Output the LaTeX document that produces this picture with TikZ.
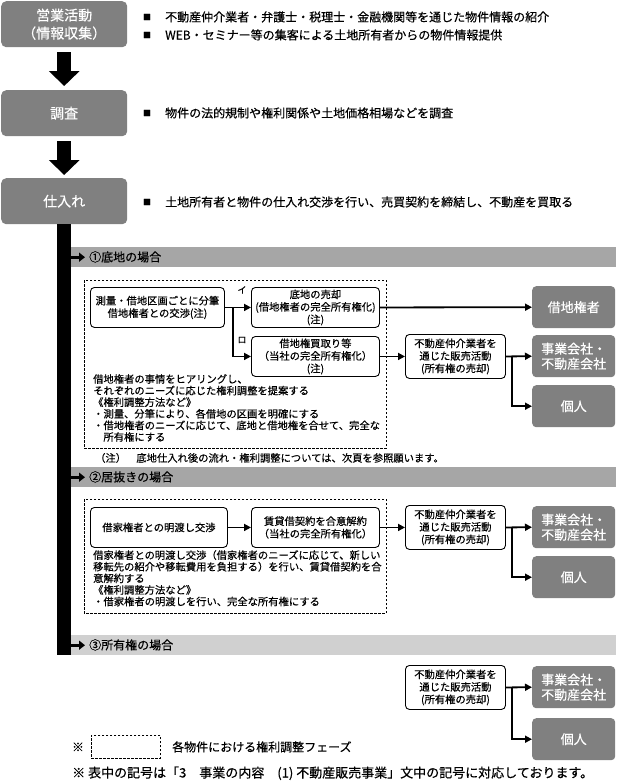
\documentclass[tikz,border=0pt]{standalone}
\usepackage{fontspec}
\setmainfont{Noto Sans CJK JP}[BoldFont=*, BoldFeatures={FakeBold=0.4}]
\usetikzlibrary{arrows.meta,calc}
\definecolor{boxgray}{HTML}{808080}
\definecolor{bandgray}{HTML}{A6A6A6}
\definecolor{bandlight}{HTML}{D0D0D0}
\newcommand{\jfs}[2]{\fontsize{#1}{#2}\selectfont\bfseries}
\tikzset{
  bigbox/.style={fill=boxgray, rounded corners=5pt, text=white, align=center, inner sep=0pt, minimum width=126pt, minimum height=46pt, font=\jfs{14}{18}, anchor=north west},
  rbox/.style={fill=boxgray, rounded corners=4pt, text=white, align=center, inner sep=0pt, minimum width=83pt, minimum height=42pt, font=\jfs{13}{15}, anchor=north west},
  wbox/.style={draw=black, line width=0.9pt, fill=white, rounded corners=4pt, align=center, inner sep=0pt, font=\jfs{10.3}{12.5}, anchor=north west},
  phase/.style={draw=black, line width=0.7pt, dash pattern=on 2.5pt off 1.5pt},
  band/.style={inner sep=0pt, minimum width=545pt, minimum height=20pt, anchor=north west},
  bandtxt/.style={font=\jfs{12}{12}, anchor=west, inner sep=0pt, text height=10.5pt, text depth=1.5pt},
  bigarrow/.style={line width=14pt, -{Triangle[width=30pt,length=15pt]}},
  conn/.style={line width=1.8pt, -{Triangle[width=7pt,length=7pt]}},
  hconn/.style={line width=2.8pt, -{Triangle[width=9pt,length=6pt]}},
  btext/.style={font=\jfs{12}{12}, anchor=west, inner sep=0pt, text height=10.5pt, text depth=1.5pt},
  bmark/.style={font=\jfs{8}{8}, inner sep=0pt},
  ntext/.style={font=\jfs{10.3}{11.6}, align=left, anchor=north west, inner sep=0pt},
  lbl/.style={font=\jfs{9}{9}, inner sep=0pt},
}
\begin{document}
\begin{tikzpicture}[x=1pt,y=-1pt]
\useasboundingbox[fill=white] (0,0) rectangle (616,782);

% top flow
\node[bigbox] (eigyo) at (1,1) {営業活動\\（情報収集）};
\node[bigbox] (chosa) at (1,90) {調査};
\node[bigbox] (shiire) at (1,178) {仕入れ};
\draw[bigarrow] ([yshift=-5pt]eigyo.south) -- ([yshift=4pt]chosa.north);
\draw[bigarrow] ([yshift=-5pt]chosa.south) -- ([yshift=3pt]shiire.north);

\node[bmark] (m1) at (147,17) {■};
\node[btext] (t1) at (165,17) {不動産仲介業者・弁護士・税理士・金融機関等を通じた物件情報の紹介};
\node[bmark] (m2) at (147,35) {■};
\node[btext] (t2) at (165,35) {WEB・セミナー等の集客による土地所有者からの物件情報提供};
\node[bmark] (m3) at (147,113) {■};
\node[btext] (t3) at (165,113) {物件の法的規制や権利関係や土地価格相場などを調査};
\node[bmark] (m4) at (147,202) {■};
\node[btext] (t4) at (165,202) {土地所有者と物件の仕入れ交渉を行い、売買契約を締結し、不動産を買取る};

% vertical bar
\coordinate (barend) at (64,655);
\fill ([xshift=-7pt]shiire.south) rectangle ([xshift=7pt]barend);

% bands
\node[band, fill=bandgray] (h1) at (71,247) {};
\node[band, fill=bandgray] (h2) at (71,467) {};
\node[band, fill=bandlight] (h3) at (71,635) {};
\draw[hconn] (h1.west) -- ([xshift=14pt]h1.west);
\draw[hconn] (h2.west) -- ([xshift=14pt]h2.west);
\draw[hconn] (h3.west) -- ([xshift=14pt]h3.west);
\node[bandtxt] (h1t) at (89,257) {①底地の場合};
\node[bandtxt] (h2t) at (89,477) {②居抜きの場合};
\node[bandtxt] (h3t) at (89,645) {③所有権の場合};

% section 1
\draw[phase] (84,280) rectangle (386,448);
\node[wbox, minimum width=134pt, minimum height=40pt] (A) at (90,287) {測量・借地区画ごとに分筆\\借地権者との交渉(注)};
\node[wbox, minimum width=128pt, minimum height=40pt] (i) at (251,287) {底地の売却\\(借地権者の完全所有権化)\\(注)};
\node[wbox, minimum width=128pt, minimum height=40pt] (ro) at (251,336) {借地権買取り等\\（当社の完全所有権化）\\(注)};
\node[lbl] (li) at (242,290) {イ};
\node[lbl] (lro) at (242,340) {ロ};
\node[wbox, minimum width=100pt, minimum height=44pt] (f1) at (405,334) {不動産仲介業者を\\通じた販売活動\\(所有権の売却)};
\node[rbox] (s1) at (532,286) {借地権者};
\node[rbox] (j1) at (532,335) {事業会社・\\不動産会社};
\node[rbox] (k1) at (532,385) {個人};
\draw[conn] (A.east) -- (i.west);
\coordinate (ja) at ($(A.east)+(8,0)$);
\draw[conn] (ja) |- (ro.west);
\draw[conn] (i.east) -- (s1.west);
\draw[conn] (ro.east) -- (f1.west);
\draw[conn] (f1.east) -- (j1.west);
\coordinate (jb) at ($(f1.east)+(6,0)$);
\draw[conn] (jb) |- (k1.west);
\node[ntext] (n1) at (93,374) {借地権者の事情をヒアリングし、\\それぞれのニーズに応じた権利調整を提案する\\《権利調整方法など》\\・測量、分筆により、各借地の区画を明確にする\\・借地権者のニーズに応じて、底地と借地権を合せて、完全な\\　所有権にする};
\node[ntext, anchor=west, text height=9pt, text depth=1.3pt] (note1) at (95,458) {（注）　底地仕入れ後の流れ・権利調整については、次頁を参照願います。};

% section 2
\draw[phase] (84,499) rectangle (386,613);
\node[wbox, minimum width=137pt, minimum height=40pt] (B) at (90,507) {借家権者との明渡し交渉};
\node[wbox, minimum width=128pt, minimum height=40pt] (C) at (251,507) {賃貸借契約を合意解約\\（当社の完全所有権化）};
\node[wbox, minimum width=100pt, minimum height=44pt] (f2) at (405,505) {不動産仲介業者を\\通じた販売活動\\(所有権の売却)};
\node[rbox] (j2) at (532,506) {事業会社・\\不動産会社};
\node[rbox] (k2) at (532,556) {個人};
\draw[conn] (B.east) -- (C.west);
\draw[conn] (C.east) -- (f2.west);
\draw[conn] (f2.east) -- (j2.west);
\coordinate (jc) at ($(f2.east)+(6,0)$);
\draw[conn] (jc) |- (k2.west);
\node[ntext] (n2) at (93,550) {借家権者との明渡し交渉（借家権者のニーズに応じて、新しい\\移転先の紹介や移転費用を負担する）を行い、賃貸借契約を合\\意解約する\\《権利調整方法など》\\・借家権者の明渡しを行い、完全な所有権にする};

% section 3
\node[wbox, minimum width=100pt, minimum height=44pt] (f3) at (405,665) {不動産仲介業者を\\通じた販売活動\\(所有権の売却)};
\node[rbox] (j3) at (532,666) {事業会社・\\不動産会社};
\node[rbox] (k3) at (532,718) {個人};
\draw[conn] (f3.east) -- (j3.west);
\coordinate (jd) at ($(f3.east)+(6,0)$);
\draw[conn] (jd) |- (k3.west);

% legend
\node[font=\jfs{12}{12}, inner sep=0pt] (kome) at (78,747) {※};
\node[phase, minimum width=69pt, minimum height=23pt, anchor=north west, inner sep=0pt] (lg) at (91,735) {};
\node[btext] (lgt) at (172,747) {各物件における権利調整フェーズ};
\node[btext, font=\jfs{13}{13}] (foot) at (72,773) {※ 表中の記号は「3　事業の内容　(1) 不動産販売事業」文中の記号に対応しております。};
\end{tikzpicture}
\end{document}
